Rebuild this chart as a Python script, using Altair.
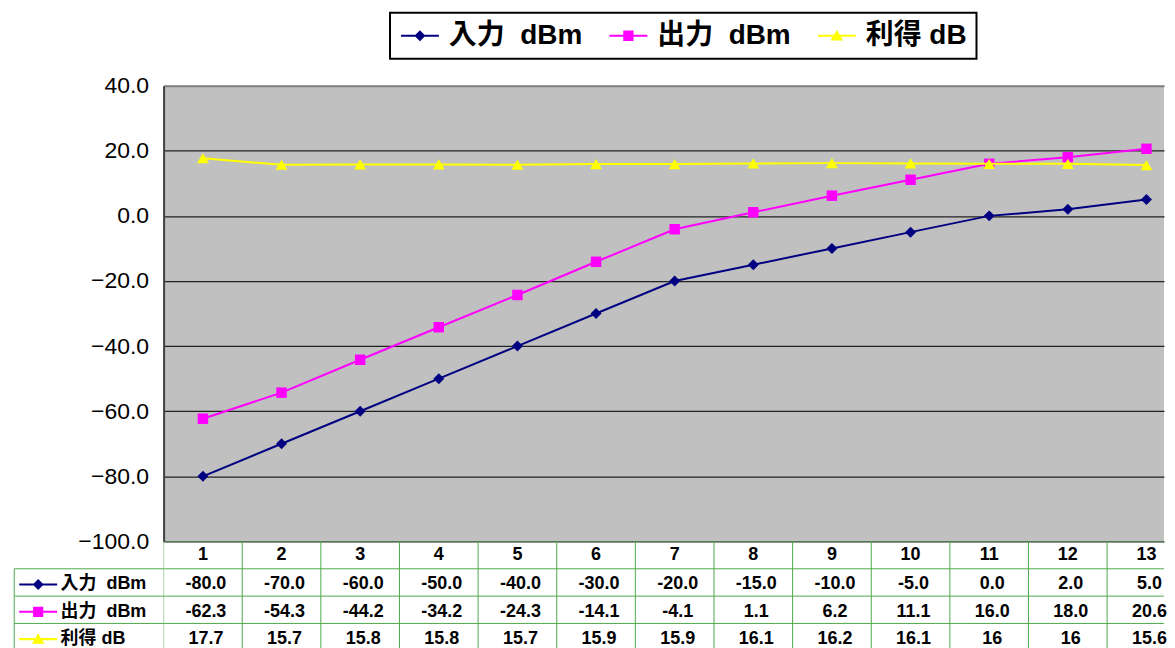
import altair as alt
import pandas as pd

# ---------------- data ----------------
CATEGORIES = list(range(1, 14))
SERIES = ["入力\u00a0\u00a0dBm", "出力\u00a0\u00a0dBm", "利得 dB"]
INPUT_DBM = [-80.0, -70.0, -60.0, -50.0, -40.0, -30.0, -20.0, -15.0, -10.0, -5.0, 0.0, 2.0, 5.0]
OUTPUT_DBM = [-62.3, -54.3, -44.2, -34.2, -24.3, -14.1, -4.1, 1.1, 6.2, 11.1, 16.0, 18.0, 20.6]
GAIN_DB = [17.7, 15.7, 15.8, 15.8, 15.7, 15.9, 15.9, 16.1, 16.2, 16.1, 16, 16, 15.6]
Y_TICKS = [-100, -80, -60, -40, -20, 0, 20, 40]

# ---------------- styles / layout ----------------
COLORS = ["#000080", "#FF00FF", "#FFFF00"]
MARKERS = ["diamond", "square", "triangle-up"]
MARKER_SIZES = [121, 110, 140]
FONT = "Liberation Sans, Arial, Noto Sans CJK JP, sans-serif"
GREEN = "#4DAA4D"

# legend / row-label symbols: line with marker (unit path scaled by sqrt(size)/2)
LEG_SIZE = 576          # 24px nominal -> 12px per unit
LEG_PATHS = [
    "M-1.583,-0.085H1.583V0.085H-1.583Z" + "M0,-0.46L0.46,0L0,0.46L-0.46,0Z",
    "M-1.583,-0.085H1.583V0.085H-1.583Z" + "M-0.43,-0.43H0.43V0.43H-0.43Z",
    "M-1.583,-0.085H1.583V0.085H-1.583Z" + "M0,-0.48L0.53,0.4H-0.53Z",
]
TAB_SIZE = 1444         # 38px nominal -> 19px per unit
TAB_PATHS = [
    "M-1,-0.055H1V0.055H-1Z" + "M0,-0.29L0.29,0L0,0.29L-0.29,0Z",
    "M-1,-0.055H1V0.055H-1Z" + "M-0.27,-0.27H0.27V0.27H-0.27Z",
    "M-1,-0.055H1V0.055H-1Z" + "M0,-0.3L0.33,0.25H-0.33Z",
]

STEP = 78.83            # px per category
PLOT_W, PLOT_H = 1003, 457
ROW_PX, N_ROWS = 27.4, 4
TABLE_H = ROW_PX * N_ROWS
X_DOMAIN = [0.5, 0.5 + PLOT_W / STEP]
LABEL_X0, LABEL_SYMBOL_X, LABEL_TEXT_X = -1.4, -1.095, -0.81

series_values = dict(zip(SERIES, [INPUT_DBM, OUTPUT_DBM, GAIN_DB]))
series_text = {
    SERIES[0]: [f"{v:.1f}" for v in INPUT_DBM],
    SERIES[1]: [f"{v:.1f}" for v in OUTPUT_DBM],
    SERIES[2]: [str(v) for v in GAIN_DB],
}

line_df = pd.DataFrame(
    [{"series": s, "cat": c, "value": v} for s in SERIES for c, v in zip(CATEGORIES, series_values[s])]
)

x_scale = alt.Scale(domain=X_DOMAIN, nice=False, zero=False)
y_enc = alt.Y(
    "value:Q",
    scale=alt.Scale(domain=[-100, 40], nice=False, zero=False),
    axis=alt.Axis(
        values=Y_TICKS, format=".1f", title=None,
        labelFont="Liberation Sans, Arial, sans-serif", labelFontSize=23, labelColor="black",
        labelPadding=15, ticks=False,
        domainColor="#404040", domainWidth=2,
        grid=True,
        gridColor=alt.condition("datum.value == 40", alt.value("#808080"), alt.value("#222222")),
        gridWidth=alt.condition("datum.value == 40", alt.value(2), alt.value(1.2)),
    ),
)
x_enc = alt.X("cat:Q", scale=x_scale, axis=None)

base = alt.Chart(line_df)
layers = []
for i, s in enumerate(SERIES):
    sub = base.transform_filter(alt.datum.series == s)
    layers.append(sub.mark_line(color=COLORS[i], strokeWidth=2).encode(x=x_enc, y=y_enc))
    layers.append(
        sub.mark_point(filled=True, shape=MARKERS[i], size=MARKER_SIZES[i], color=COLORS[i], opacity=1)
        .encode(x=x_enc, y=y_enc)
    )

legend_df = pd.DataFrame({"series": SERIES})
legend_def = alt.Legend(
    title=None, orient="none", legendX=227, legendY=-73, direction="horizontal",
    symbolSize=LEG_SIZE, symbolOpacity=1, symbolStrokeWidth=0, symbolOffset=7,
    labelFont=FONT, labelFontSize=28, labelFontWeight="bold", labelColor="black",
    labelOffset=15, columnPadding=25, padding=9,
    fillColor="white", strokeColor="black",
)
legend_layer = alt.Chart(legend_df).mark_point(filled=True, opacity=0).encode(
    color=alt.Color("series:N", scale=alt.Scale(domain=SERIES, range=COLORS), legend=legend_def),
    shape=alt.Shape("series:N", scale=alt.Scale(domain=SERIES, range=LEG_PATHS), legend=legend_def),
)

top = alt.layer(*layers, legend_layer).properties(
    width=PLOT_W, height=PLOT_H,
    view=alt.ViewBackground(fill="#C0C0C0", strokeWidth=0),
)

# ---------------- data table ----------------
y_tab_scale = alt.Scale(domain=[0, N_ROWS], nice=False, zero=False, reverse=True)

# grid lines inside the plot columns (clipped at the plot edges)
h_plot = pd.DataFrame([{"y": r, "x0": X_DOMAIN[0], "x1": CATEGORIES[-1] + 0.5} for r in range(N_ROWS)])
v_plot = pd.DataFrame([{"x": c - 0.5, "y0": 0, "y1": N_ROWS} for c in CATEGORIES + [CATEGORIES[-1] + 1]])
# label column lines (left of the plot)
h_lab = pd.DataFrame([{"y": r, "x0": LABEL_X0, "x1": X_DOMAIN[0]} for r in range(1, N_ROWS)])
v_lab = pd.DataFrame([{"x": LABEL_X0, "y0": 1, "y1": N_ROWS}])

rule_style = dict(color=GREEN, strokeWidth=1)
h_plot_l = alt.Chart(h_plot).mark_rule(clip=True, **rule_style).encode(
    x=alt.X("x0:Q", scale=x_scale, axis=None), x2="x1:Q",
    y=alt.Y("y:Q", scale=y_tab_scale, axis=None))
v_plot_l = alt.Chart(v_plot).mark_rule(clip=True, **rule_style).encode(
    x=alt.X("x:Q", scale=x_scale, axis=None),
    y=alt.Y("y0:Q", scale=y_tab_scale, axis=None), y2="y1:Q")
h_lab_l = alt.Chart(h_lab).mark_rule(**rule_style).encode(
    x=alt.X("x0:Q", scale=x_scale, axis=None), x2="x1:Q",
    y=alt.Y("y:Q", scale=y_tab_scale, axis=None))
v_lab_l = alt.Chart(v_lab).mark_rule(**rule_style).encode(
    x=alt.X("x:Q", scale=x_scale, axis=None),
    y=alt.Y("y0:Q", scale=y_tab_scale, axis=None), y2="y1:Q")

hdr_df = pd.DataFrame([{"ry": 0.5, "cat": c, "text": str(c)} for c in CATEGORIES])
val_df = pd.DataFrame(
    [{"ry": i + 1.5, "cat": c, "text": t}
     for i, s in enumerate(SERIES) for c, t in zip(CATEGORIES, series_text[s])]
)
lab_df = pd.DataFrame(
    [{"ry": i + 1.5, "sx": LABEL_SYMBOL_X, "tx": LABEL_TEXT_X, "series": s} for i, s in enumerate(SERIES)]
)

y_txt = alt.Y("ry:Q", scale=y_tab_scale, axis=None)
txt_style = dict(font=FONT, fontSize=18, fontWeight="bold", color="black", baseline="middle")
hdr_text = alt.Chart(hdr_df).mark_text(align="center", **txt_style).encode(
    x=alt.X("cat:Q", scale=x_scale, axis=None), y=y_txt, text="text:N")
val_text = alt.Chart(val_df).mark_text(align="center", dx=3, dy=2, **txt_style).encode(
    x=alt.X("cat:Q", scale=x_scale, axis=None), y=y_txt, text="text:N")
lab_text = alt.Chart(lab_df).mark_text(align="left", dy=2, **txt_style).encode(
    x=alt.X("tx:Q", scale=x_scale, axis=None), y=y_txt, text="series:N")
lab_sym = alt.Chart(lab_df).mark_point(filled=True, opacity=1, size=TAB_SIZE, yOffset=2, strokeWidth=0).encode(
    x=alt.X("sx:Q", scale=x_scale, axis=None), y=y_txt,
    color=alt.Color("series:N", scale=alt.Scale(domain=SERIES, range=COLORS), legend=None),
    shape=alt.Shape("series:N", scale=alt.Scale(domain=SERIES, range=TAB_PATHS), legend=None),
)

table = alt.layer(h_plot_l, v_plot_l, h_lab_l, v_lab_l, hdr_text, val_text, lab_text, lab_sym).properties(
    width=PLOT_W, height=TABLE_H
)

chart = (
    alt.vconcat(top, table, spacing=0, bounds="flush")
    .properties(padding={"left": 5, "top": 3, "right": 0, "bottom": 0})
    .resolve_scale(color="independent", shape="independent")
    .configure_view(strokeWidth=0)
    .configure_legend(strokeWidth=2)
)

chart.save("out.html", embed_options={"renderer": "svg", "actions": False})
